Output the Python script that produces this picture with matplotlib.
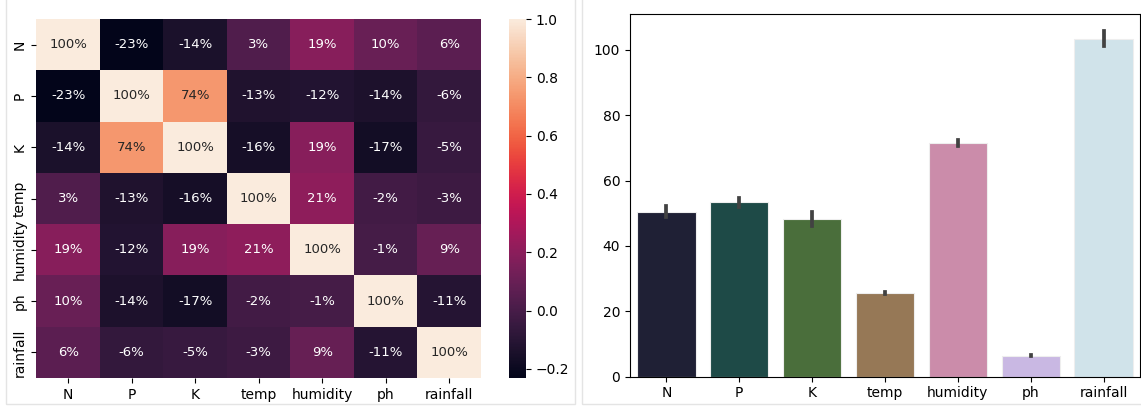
import numpy as np
import pandas as pd
import matplotlib
matplotlib.use("Agg")
import matplotlib.pyplot as plt
import seaborn as sns
from matplotlib.patches import Rectangle

# features
features = ['N', 'P', 'K', 'temp', 'humidity', 'ph', 'rainfall']

# correlation matrix (rows)
corr_N = [1.000, -0.231, -0.141, 0.027, 0.191, 0.097, 0.059]
corr_P = [-0.231, 1.000, 0.736, -0.128, -0.119, -0.138, -0.064]
corr_K = [-0.141, 0.736, 1.000, -0.160, 0.191, -0.170, -0.053]
corr_temp = [0.027, -0.128, -0.160, 1.000, 0.207, -0.018, -0.030]
corr_humidity = [0.191, -0.119, 0.191, 0.207, 1.000, -0.008, 0.094]
corr_ph = [0.097, -0.138, -0.170, -0.018, -0.008, 1.000, -0.109]
corr_rainfall = [0.059, -0.064, -0.053, -0.030, 0.094, -0.109, 1.000]

# feature means and 95% CI bounds
means = [50.55, 53.36, 48.15, 25.62, 71.48, 6.47, 103.46]
ci_low = [49.0, 51.9, 46.0, 25.4, 70.5, 6.44, 101.1]
ci_high = [52.1, 54.8, 50.3, 25.8, 72.4, 6.50, 105.8]

bar_colors = ['#1f2035', '#1e4a47', '#4a6e3b', '#967856', '#cb8caa', '#c9b8e3', '#d0e3ea']

W, H = 1141, 408
fig = plt.figure(figsize=(W / 100, H / 100), dpi=100)

# panel frames
fig.patches.append(Rectangle((6 / W, 4 / H), (575 - 6) / W, 1.1, transform=fig.transFigure,
                             fill=False, edgecolor='#e4e4e4', lw=1))
fig.patches.append(Rectangle((582 / W, 4 / H), 1.0, 1.1, transform=fig.transFigure,
                             fill=False, edgecolor='#e4e4e4', lw=1))

# heatmap
corr = pd.DataFrame([corr_N, corr_P, corr_K, corr_temp, corr_humidity, corr_ph, corr_rainfall],
                    index=features, columns=features)
ax1 = fig.add_axes([36.4 / W, 30 / H, (481 - 36.4) / W, 359 / H])
cax = fig.add_axes([509 / W, 30 / H, 17 / W, 359 / H])
sns.heatmap(corr, annot=True, fmt='.0%', ax=ax1, cbar_ax=cax, annot_kws={'size': 9.5})
ax1.set_yticklabels(features, rotation=90, va='center', fontsize=10)
ax1.set_xticklabels(features, rotation=0, fontsize=10)
cax.set_yticks([-0.2, 0.0, 0.2, 0.4, 0.6, 0.8, 1.0])
cax.tick_params(labelsize=10)

# bar chart
ax2 = fig.add_axes([630 / W, 31.3 / H, 510 / W, 362.7 / H])
x = np.arange(len(features))
ax2.bar(x, means, width=0.8, color=bar_colors, edgecolor='#eeeeee', linewidth=0.8)
for xi, lo, hi in zip(x, ci_low, ci_high):
    ax2.plot([xi, xi], [lo, hi], color='#424242', lw=2.7, solid_capstyle='projecting')
ax2.set_xticks(x)
ax2.set_xticklabels(features)
ax2.set_xlim(-0.5, 6.5)
ax2.set_ylim(0, 111)
ax2.tick_params(labelsize=10)

fig.savefig('out.png', dpi=100)
